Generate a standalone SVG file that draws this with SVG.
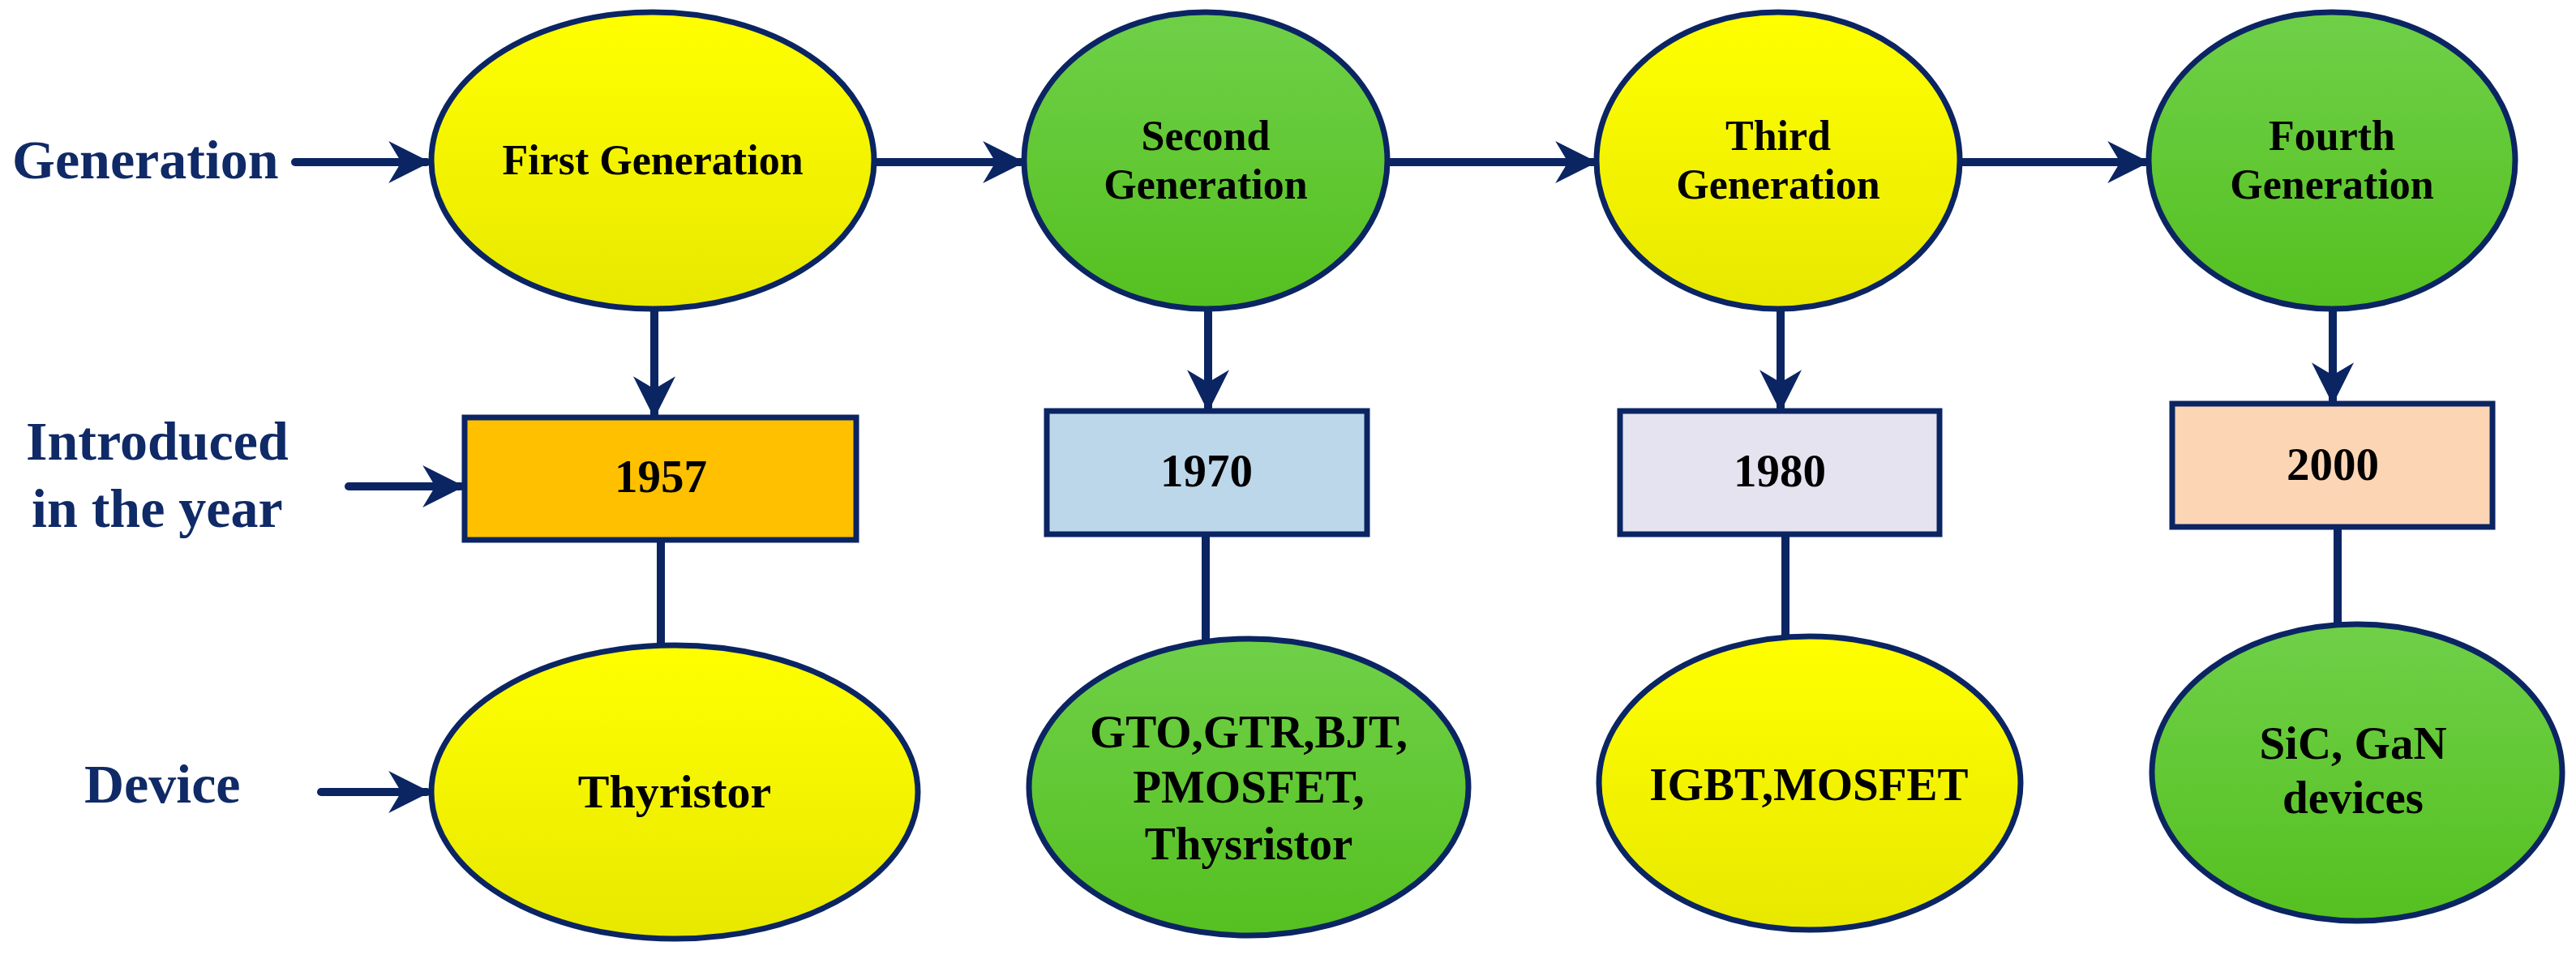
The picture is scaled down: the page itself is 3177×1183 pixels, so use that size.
<svg xmlns="http://www.w3.org/2000/svg" width="3177" height="1183" viewBox="0 0 3177 1183">
<style>
.lbl{font-family:"Liberation Serif",serif;font-weight:bold;font-size:68px;fill:#0f2a66}
.t{font-family:"Liberation Serif",serif;font-weight:bold;font-size:52px;fill:#000;text-anchor:middle}
.y{fill:url(#gy);stroke:#0b2563;stroke-width:7}
.g{fill:url(#gg);stroke:#0b2563;stroke-width:7}
.r{stroke:#0b2563;stroke-width:7}
.c{stroke:#0b2563;stroke-width:10;fill:none;stroke-linecap:round}
</style>
<defs>
<linearGradient id="gy" x1="0" y1="0" x2="0" y2="1"><stop offset="0" stop-color="#ffff00"/><stop offset="1" stop-color="#e8e800"/></linearGradient>
<linearGradient id="gg" x1="0" y1="0" x2="0" y2="1"><stop offset="0" stop-color="#6fd048"/><stop offset="1" stop-color="#55c020"/></linearGradient>
<marker id="ah" viewBox="0 0 10 10" refX="9" refY="5" markerWidth="5.2" markerHeight="5.2" orient="auto" markerUnits="strokeWidth"><path d="M0,0 L10,5 L0,10 L3,5 Z" fill="#0b2563"/></marker>
</defs>
<rect width="3177" height="1183" fill="#fff"/>
<g id="labels">
<text class="lbl" x="15" y="220">Generation</text>
<text class="lbl" x="32" y="567">Introduced</text>
<text class="lbl" x="39" y="650">in the year</text>
<text class="lbl" x="104" y="990">Device</text>
</g>
<g id="connectors">
<line class="c" x1="364" y1="200" x2="526" y2="200" marker-end="url(#ah)"/>
<line class="c" x1="430" y1="600" x2="568" y2="600" marker-end="url(#ah)"/>
<line class="c" x1="396" y1="977" x2="526" y2="977" marker-end="url(#ah)"/>
<line class="c" x1="1080" y1="200" x2="1259" y2="200" marker-end="url(#ah)"/>
<line class="c" x1="1711" y1="200" x2="1965" y2="200" marker-end="url(#ah)"/>
<line class="c" x1="2417" y1="200" x2="2646" y2="200" marker-end="url(#ah)"/>
<line class="c" x1="807" y1="381" x2="807" y2="511" marker-end="url(#ah)"/>
<line class="c" x1="1490" y1="381" x2="1490" y2="503" marker-end="url(#ah)"/>
<line class="c" x1="2196" y1="381" x2="2196" y2="503" marker-end="url(#ah)"/>
<line class="c" x1="2877" y1="381" x2="2877" y2="494" marker-end="url(#ah)"/>
<line class="c" x1="815" y1="649" x2="815" y2="796"/>
<line class="c" x1="1487" y1="640" x2="1487" y2="788"/>
<line class="c" x1="2202" y1="640" x2="2202" y2="785"/>
<line class="c" x1="2883" y1="619" x2="2883" y2="770"/>
</g>
<g id="gen1"><ellipse class="y" cx="805" cy="198" rx="273" ry="183"/><text class="t" x="805" y="215">First Generation</text></g>
<g id="gen2"><ellipse class="g" cx="1487" cy="198" rx="224" ry="183"/><text class="t" x="1487" y="185">Second</text><text class="t" x="1487" y="245">Generation</text></g>
<g id="gen3"><ellipse class="y" cx="2193" cy="198" rx="224" ry="183"/><text class="t" x="2193" y="185">Third</text><text class="t" x="2193" y="245">Generation</text></g>
<g id="gen4"><ellipse class="g" cx="2876" cy="198" rx="226" ry="183"/><text class="t" x="2876" y="185">Fourth</text><text class="t" x="2876" y="245">Generation</text></g>
<g id="y1957"><rect class="r" x="573" y="515" width="483" height="151" fill="#ffc000"/><text class="t" x="815" y="607" style="font-size:57px">1957</text></g>
<g id="y1970"><rect class="r" x="1291" y="507" width="395" height="152" fill="#bdd7ea"/><text class="t" x="1488" y="600" style="font-size:57px">1970</text></g>
<g id="y1980"><rect class="r" x="1998" y="507" width="394" height="152" fill="#e5e3ef"/><text class="t" x="2195" y="600" style="font-size:57px">1980</text></g>
<g id="y2000"><rect class="r" x="2679" y="498" width="395" height="152" fill="#fcd5b5"/><text class="t" x="2877" y="592" style="font-size:57px">2000</text></g>
<g id="dev1"><ellipse class="y" cx="832" cy="977" rx="300" ry="181"/><text class="t" x="832" y="996" style="font-size:58px">Thyristor</text></g>
<g id="dev2"><ellipse class="g" cx="1540" cy="971" rx="271" ry="183"/><text class="t" x="1540" y="922" style="font-size:57px">GTO,GTR,BJT,</text><text class="t" x="1540" y="990" style="font-size:57px">PMOSFET,</text><text class="t" x="1540" y="1060" style="font-size:57px">Thysristor</text></g>
<g id="dev3"><ellipse class="y" cx="2232" cy="966" rx="260" ry="181"/><text class="t" x="2231" y="987" style="font-size:57px">IGBT,MOSFET</text></g>
<g id="dev4"><ellipse class="g" cx="2907" cy="953" rx="253" ry="183"/><text class="t" x="2902" y="936" style="font-size:57px">SiC, GaN</text><text class="t" x="2902" y="1003" style="font-size:57px">devices</text></g>
</svg>
